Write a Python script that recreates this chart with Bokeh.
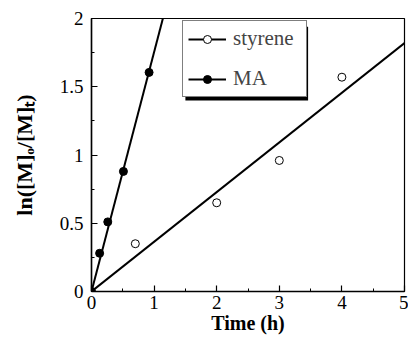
from bokeh.plotting import figure
from bokeh.models import Range1d, FixedTicker, Legend, LegendItem
from bokeh.embed import file_html
from bokeh.resources import INLINE

# data
time_styrene = [0.7, 2.0, 3.0, 4.0]
ln_styrene = [0.35, 0.65, 0.96, 1.57]
time_ma = [0.0, 0.13, 0.26, 0.51, 0.92]
ln_ma = [0.0, 0.28, 0.51, 0.88, 1.605]
slope_styrene = 0.364
slope_ma = 1.754
fit_time = [0.0, 5.0]
x_ticks = [0, 1, 2, 3, 4, 5]
x_minor = [0.5, 1.5, 2.5, 3.5, 4.5]
y_ticks = [0, 0.5, 1, 1.5, 2]
y_minor = [0.25, 0.75, 1.25, 1.75]
y_labels = ["0", "0.5", "1", "1.5", "2"]

SERIF = "Liberation Serif"

p = figure(width=408, height=336, x_range=Range1d(0, 5), y_range=Range1d(0, 2),
           output_backend="svg", toolbar_location=None,
           min_border_left=91, min_border_right=4, min_border_top=18, min_border_bottom=43)
p.grid.visible = False
p.outline_line_color = "black"
p.outline_line_width = 1.2
p.background_fill_color = "white"
p.border_fill_color = "white"

for ax, ticks, minor in ((p.xaxis, x_ticks, x_minor), (p.yaxis, y_ticks, y_minor)):
    ax.ticker = FixedTicker(ticks=ticks, minor_ticks=minor)
    ax.major_tick_in = 6
    ax.major_tick_out = 0
    ax.minor_tick_in = 3
    ax.minor_tick_out = 0
    ax.axis_line_width = 1.5
    ax.major_tick_line_width = 1.2
    ax.minor_tick_line_width = 1.0
    ax.major_label_text_font = SERIF
    ax.major_label_text_font_size = "19px"
    ax.major_label_text_color = "black"
    ax.axis_label_text_font = SERIF
    ax.axis_label_text_font_style = "bold"
    ax.axis_label_text_font_size = "20px"
    ax.axis_label_text_color = "black"

p.yaxis.major_label_overrides = {t: l for t, l in zip(y_ticks, y_labels)}
p.xaxis.axis_label = "Time (h)"
p.yaxis.axis_label = "ln([M]\u2092/[M]\u209c)"
p.yaxis.axis_label_text_font_size = "22px"
p.xaxis.major_label_standoff = 4
p.yaxis.major_label_standoff = 8
p.xaxis.axis_label_standoff = 0
p.yaxis.axis_label_standoff = 20

# legend drop shadow (drawn under the legend box)
p.quad(left=[1.50], right=[3.46], top=[1.94], bottom=[1.40], fill_color="black", line_color=None)

fit_sty = p.line(fit_time, [slope_styrene * t for t in fit_time], line_color="black", line_width=2)
fit_ma = p.line(fit_time, [slope_ma * t for t in fit_time], line_color="black", line_width=2)
pts_sty = p.scatter(time_styrene, ln_styrene, marker="circle", size=8, fill_color="white",
                    line_color="black", line_width=1)
pts_ma = p.scatter(time_ma, ln_ma, marker="circle", size=8, fill_color="black", line_color="black")

legend = Legend(items=[LegendItem(label="styrene", renderers=[fit_sty, pts_sty]),
                       LegendItem(label="MA", renderers=[fit_ma, pts_ma])],
                location=(91, 194), border_line_color="black", border_line_width=1.5,
                background_fill_color="white", background_fill_alpha=1.0,
                label_text_font=SERIF, label_text_font_size="21px",
                glyph_width=38, glyph_height=20, spacing=15, padding=5, margin=0,
                label_standoff=7, label_width=68)
p.add_layout(legend, "center")

open("out.html", "w").write(file_html(p, INLINE))
